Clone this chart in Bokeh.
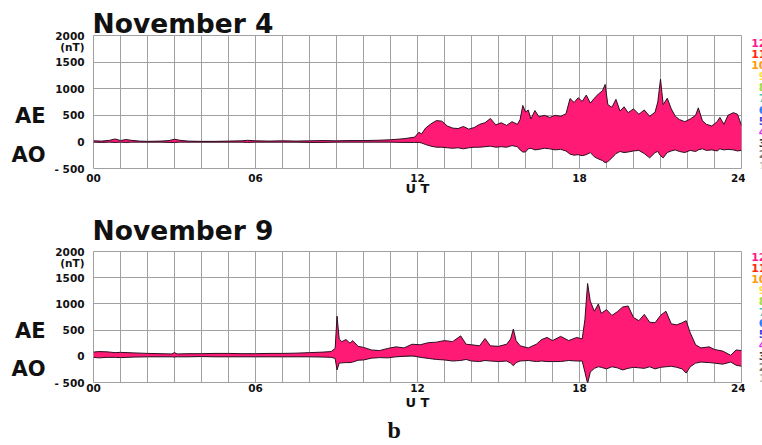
from bokeh.plotting import figure
from bokeh.layouts import column, row
from bokeh.models import FixedTicker, LinearAxis, Title, ColumnDataSource
from bokeh.core.properties import value
from bokeh.embed import file_html
from bokeh.resources import INLINE

# ---------------- data ----------------
nov4_hours = [0, 0.3, 0.6, 0.8, 1.0, 1.2, 1.4, 1.7, 2.0, 2.5, 2.8, 3.0, 3.2, 3.5, 4.0, 4.5, 5.0, 5.5, 5.7,
              6.0, 6.5, 7.0, 7.5, 8.0, 8.5, 9.0, 9.5, 10.0, 10.5, 11.0, 11.5, 11.9,
              12.05, 12.15, 12.3, 12.5, 12.7, 12.9, 13.1, 13.3, 13.5, 13.7, 13.9, 14.1, 14.3, 14.5, 14.7, 14.9,
              15.1, 15.3, 15.5, 15.7, 15.8, 15.9, 16.0, 16.1, 16.2, 16.35, 16.5, 16.7, 16.9, 17.1, 17.3, 17.5,
              17.65, 17.8, 17.95, 18.1, 18.25, 18.4, 18.55, 18.7, 18.85, 18.95, 19.05, 19.2, 19.35, 19.5, 19.65,
              19.8, 20.0, 20.2, 20.4, 20.6, 20.8, 20.9, 21.0, 21.1, 21.25, 21.4, 21.55, 21.7, 21.9, 22.1, 22.3,
              22.4, 22.55, 22.7, 22.9, 23.1, 23.2, 23.35, 23.5, 23.7, 23.85, 24.0]
nov4_upper = [20, 15, 30, 55, 25, 45, 30, 15, 10, 15, 25, 50, 30, 15, 10, 10, 15, 20, 30,
              20, 15, 20, 15, 20, 25, 20, 25, 25, 30, 40, 60, 90,
              180, 150, 260, 340, 400, 390, 300, 260, 250, 290, 240, 270, 330, 360, 440, 320,
              360, 310, 380, 330, 420, 685, 560, 600, 430, 590, 470, 500, 460, 500, 480, 530,
              815, 740, 830, 760, 880, 730, 820, 900, 960, 1080, 700, 650, 800, 580, 660,
              550, 620, 520, 600, 480, 560, 750, 1180, 700, 820, 620, 480, 420, 380, 430, 500,
              640, 400, 330, 300, 380, 460, 330, 500, 550, 520, 310]
nov4_lower = [-5, -10, -5, -10, -5, -10, -5, -5, -5, -5, -10, -10, -5, -5, -5, -5, -5, -5, -10,
              -5, -5, -5, -5, -10, -10, -5, -5, -5, -5, -5, -10, -10,
              -10, -20, -50, -80, -100, -100, -110, -120, -110, -130, -110, -100, -100, -90, -80, -100,
              -90, -100, -70, -90, -150, -190, -190, -130, -120, -150, -140, -120, -130, -150, -140, -170,
              -230, -250, -240, -260, -240, -200, -280, -320, -350, -390, -370, -300, -220, -180, -200,
              -190, -170, -160, -220, -300, -200, -180, -260, -300, -200, -170, -150, -180, -200, -160, -180,
              -150, -130, -160, -150, -170, -130, -150, -140, -150, -170, -160]

nov9_hours = [0, 0.2, 0.5, 0.8, 1.0, 1.5, 2.0, 2.5, 2.9, 3.0, 3.1, 3.5, 4.0, 4.5, 5.0, 5.5, 6.0, 6.5, 7.0,
              7.5, 8.0, 8.5, 8.8, 8.95,
              9.02, 9.1, 9.2, 9.35, 9.5, 9.6, 9.8, 10.0, 10.3, 10.6, 10.9, 11.2, 11.5, 11.8, 12.1, 12.4,
              12.7, 13.0, 13.3, 13.6, 13.8, 14.0, 14.3, 14.5, 14.7, 15.0, 15.3, 15.45, 15.55, 15.65, 15.8,
              16.1, 16.4, 16.6, 16.8, 17.0, 17.3, 17.6, 17.9, 18.1, 18.2, 18.3, 18.4, 18.55, 18.7, 18.8,
              19.0, 19.2, 19.4, 19.6, 19.8, 20.0, 20.2, 20.4, 20.6, 20.8, 21.0, 21.2, 21.4, 21.6, 21.8,
              21.95, 22.1, 22.3, 22.5, 22.8, 23.0, 23.3, 23.6, 23.8, 24.0]
nov9_upper = [80, 90, 85, 70, 75, 65, 55, 50, 45, 70, 45, 50, 50, 55, 55, 50, 50, 55, 55,
              60, 70, 80, 90, 150,
              765, 330, 280, 320, 250, 300, 190, 170, 120, 110, 150, 180, 160, 230, 220, 260,
              270, 300, 280, 390, 230, 220, 200, 340, 200, 190, 230, 330, 520, 300, 200,
              160, 230, 320, 360, 300, 380, 300, 360, 330, 700, 1390, 1050, 860, 1000, 820,
              890, 780, 850, 940, 960, 740, 680, 800, 650, 640, 780, 860, 620, 600, 640,
              680, 450, 220, 160, 180, 130, 100, 20, 120, 110]
nov9_lower = [-20, -30, -20, -20, -25, -15, -10, -10, -10, -15, -10, -10, -5, -10, -10, -10, -10, -10, -10,
              -10, -10, -15, -20, -40,
              -260, -130, -125, -120, -120, -110, -75, -70, -35, -25, -30, -10, 0, 10, -20, -40,
              -60, -70, -90, -80, -60, -90, -100, -80, -90, -100, -90, -130, -180, -120, -90,
              -80, -100, -90, -100, -100, -100, -80, -90, -90, -300, -520, -300, -230, -200, -210,
              -240, -200, -220, -260, -230, -210, -220, -230, -200, -240, -210, -200, -190, -210, -240,
              -320, -200, -130, -110, -120, -130, -150, -110, -170, -190]

panel_titles = ["November 4", "November 9"]
y_ticks = [-500, 0, 500, 1000, 1500, 2000]
y_tick_labels = ["- 500", "0", "500", "1000", "1500", "2000"]
x_ticks = [0, 6, 12, 18, 24]
x_tick_labels = ["00", "06", "12", "18", "24"]
scale_labels = ["12", "11", "10", "9", "8", "7", "6", "5", "4", "3", "2", "1"]
scale_colors = ["#ff1a8c", "#ff2a10", "#ff9a10", "#ffe030", "#99dd33", "#33ccbb",
                "#2f7bff", "#3a3adf", "#e030f0", "#333333", "#777777", "#bbbbbb"]

FILL = "#ff1a75"
EDGE = "#2a1020"
GRID = "#a0a0a0"
SANS = "DejaVu Sans"
INK = "#111111"

W = 762
FRAME_L, FRAME_R = 93, 741
PANEL_W = 745


def make_panel(title, hours, upper, lower, height, top, bottom, x_standoff, ut_standoff,
               title_standoff, legend_top, legend_bottom, caption=None):
    p = figure(width=PANEL_W, height=height, x_range=(0, 24), y_range=(-500, 2000),
               output_backend="svg", toolbar_location=None,
               min_border_left=FRAME_L, min_border_right=PANEL_W - FRAME_R,
               min_border_top=top, min_border_bottom=bottom)
    frame_h = height - top - bottom

    p.varea(x=hours, y1=lower, y2=upper, fill_color=FILL)
    p.line(hours, upper, line_color=EDGE, line_width=1)
    p.line(hours, lower, line_color=EDGE, line_width=1)

    p.outline_line_color = GRID
    p.xgrid.ticker = FixedTicker(ticks=list(range(25)))
    p.ygrid.ticker = FixedTicker(ticks=y_ticks)
    for g in (p.xgrid, p.ygrid):
        g.grid_line_color = GRID
        g.grid_line_width = 1

    # main axes
    p.xaxis.ticker = FixedTicker(ticks=x_ticks)
    p.xaxis.major_label_overrides = {t: s for t, s in zip(x_ticks, x_tick_labels)}
    p.yaxis.ticker = FixedTicker(ticks=y_ticks + [1780])
    ov = {t: s for t, s in zip(y_ticks, y_tick_labels)}
    ov[1780] = "(nT)"
    p.yaxis.major_label_overrides = ov

    # AE / AO side labels as a second left axis
    side = LinearAxis(ticker=FixedTicker(ticks=[480, -250]),
                      major_label_overrides={480: "AE", -250: "AO"})
    p.add_layout(side, "left")

    for ax in (p.xaxis[0], p.yaxis[0], side):
        ax.axis_line_color = None
        ax.major_tick_line_color = None
        ax.minor_tick_line_color = None
        ax.major_label_text_font = SANS
        ax.major_label_text_font_style = "bold"
        ax.major_label_text_font_size = "10.5px"
        ax.major_label_text_color = INK
    side.major_label_text_font_size = "21px"
    side.major_label_standoff = 0
    p.xaxis.major_label_standoff = x_standoff
    p.yaxis[0].major_label_standoff = 3

    p.xaxis.axis_label = "U T"
    p.xaxis.axis_label_text_font = SANS
    p.xaxis.axis_label_text_font_style = "bold"
    p.xaxis.axis_label_text_font_size = "13px"
    p.xaxis.axis_label_text_color = INK
    p.xaxis.axis_label_standoff = ut_standoff

    p.title.text = title
    p.title.text_font = SANS
    p.title.text_font_style = "bold"
    p.title.text_font_size = "26.5px"
    p.title.text_color = INK
    p.title.align = "left"
    p.title.offset = -1
    p.title.standoff = title_standoff

    if caption:
        cap = Title(text=caption, text_font="Liberation Serif", text_font_style="bold",
                    text_font_size="24px", text_color=INK, align="left", offset=294, standoff=5)
        p.add_layout(cap, "below")

    # colour scale numbers at the right edge (cut by the window edge, as in the reference);
    # this narrow figure's frame is aligned with the panel's frame by the row layout
    leg = figure(width=W - PANEL_W, height=height, x_range=(0, W - PANEL_W), y_range=(-500, 2000),
                 output_backend="svg", toolbar_location=None,
                 min_border_left=0, min_border_right=0, min_border_top=top, min_border_bottom=bottom)
    leg.axis.visible = False
    leg.grid.visible = False
    leg.outline_line_color = None
    n = len(scale_labels)

    def to_val(py):
        return 2000 - (py - top) * 2500.0 / frame_h

    ys = [to_val(legend_top + i * (legend_bottom - legend_top) / (n - 1)) for i in range(n)]
    src = ColumnDataSource(dict(x=[766 - PANEL_W] * n, y=ys, t=scale_labels, c=scale_colors))
    leg.text(x="x", y="y", text="t", text_color="c", source=src, text_align="right",
             text_baseline="middle", text_font=value(SANS), text_font_style="bold",
             text_font_size="11px")
    return row(p, leg, spacing=0)


# top figure: 207 px tall, frame 35..168; bottom figure: 238 px tall, frame 249..383 on the page
p1 = make_panel(panel_titles[0], nov4_hours, nov4_upper, nov4_lower, 207, 35, 39, -1, -4, -7, 42, 165)
p2 = make_panel(panel_titles[1], nov9_hours, nov9_upper, nov9_lower, 238, 42, 62, -5, 0, 11, 48, 171,
                caption="b")

layout = column(p1, p2, spacing=0)
open("out.html", "w").write(file_html(layout, INLINE))
